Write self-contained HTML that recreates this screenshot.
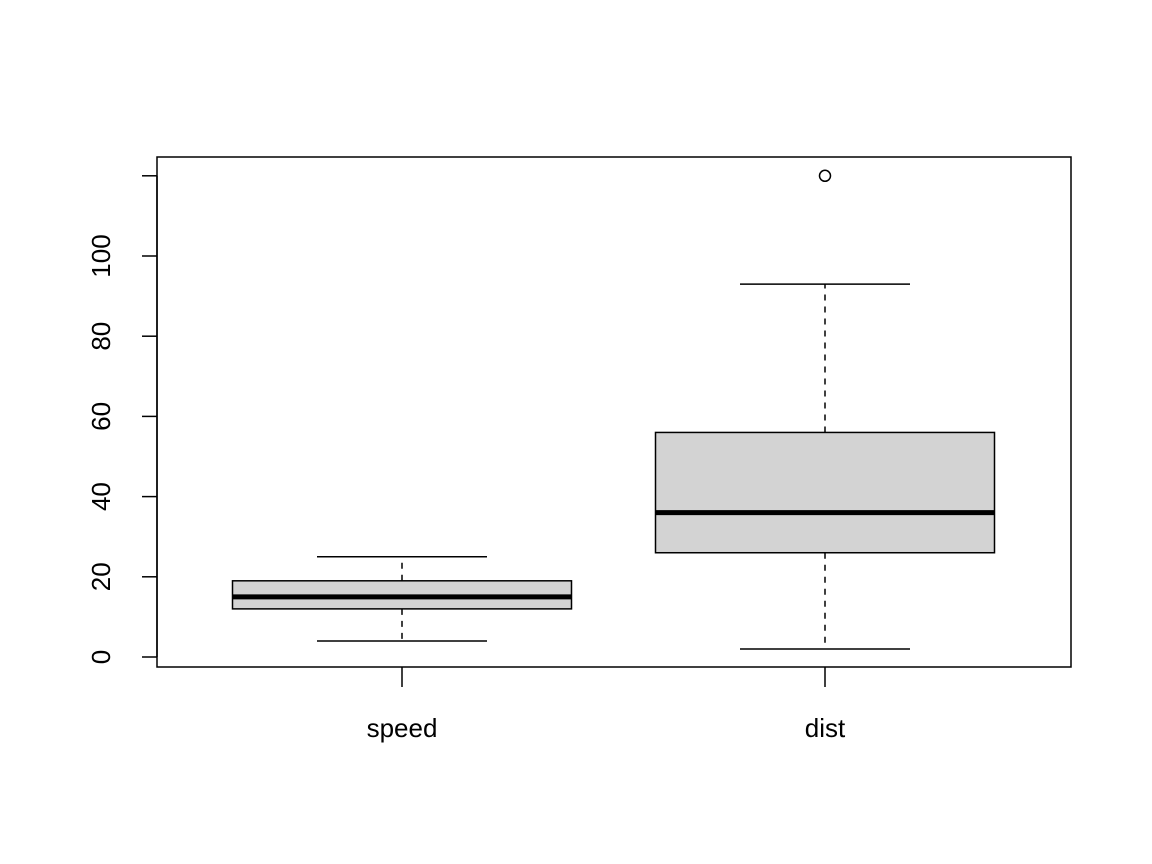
<!DOCTYPE html>
<html><head><meta charset="utf-8"><style>
html,body{margin:0;padding:0;background:#fff;}
svg{display:block;font-family:"Liberation Sans",Arial,sans-serif;}
</style></head><body>
<svg id="chart" width="1152" height="864" viewBox="0 0 1152 864" xmlns="http://www.w3.org/2000/svg">
<rect x="0" y="0" width="1152" height="864" fill="#fff"/>
<g id="marks"></g>
<rect x="157" y="157" width="914" height="510" fill="none" stroke="#000" stroke-width="1.5"/>
</svg>
<script>
const categories = ["speed", "dist"];
const mins = [4, 2];
const q1s = [12, 26];
const medians = [15, 36];
const q3s = [19, 56];
const maxs = [25, 93];
const outliers = [[], [120]];
const yTicks = [0, 20, 40, 60, 80, 100, 120];
const yTickLabels = ["0", "20", "40", "60", "80", "100", ""];

const NS = "http://www.w3.org/2000/svg";
const g = document.getElementById("marks");
function y(v){ return 657 - v * 4.01; }
function x(i){ return 402 + i * 423; }
function el(tag, attrs){
  const e = document.createElementNS(NS, tag);
  for (const k in attrs) e.setAttribute(k, attrs[k]);
  g.appendChild(e);
  return e;
}
let e = el("line", {x1:157, x2:157, y1:y(yTicks[0]), y2:y(yTicks[yTicks.length-1]), stroke:"#000", "stroke-width":1.5});


yTicks.forEach((t, k) => {
  let tk = el("line", {x1:142, x2:157, y1:y(t), y2:y(t), stroke:"#000", "stroke-width":1.5});
  
  
  if (yTickLabels[k]) {
    let lb = el("text", {x:0, y:0, "font-size":26, "text-anchor":"middle", transform:`translate(110,${y(t)}) rotate(-90)`});
    lb.textContent = yTickLabels[k];
    
    
  }
});
categories.forEach((c, i) => {
  const cx = x(i);
  let tk = el("line", {x1:cx, x2:cx, y1:667, y2:687, stroke:"#000", "stroke-width":1.5});
  
  
  let lb = el("text", {x:cx, y:737, "font-size":26, "text-anchor":"middle"});
  lb.textContent = c;
  
  
  let w1 = el("line", {x1:cx, x2:cx, y1:y(q3s[i]), y2:y(maxs[i]), stroke:"#000", "stroke-width":1.5, "stroke-dasharray":"6,6"});
  
  
  let w2 = el("line", {x1:cx, x2:cx, y1:y(q1s[i]), y2:y(mins[i]), stroke:"#000", "stroke-width":1.5, "stroke-dasharray":"6,6"});
  
  
  let c1 = el("line", {x1:cx-85, x2:cx+85, y1:y(maxs[i]), y2:y(maxs[i]), stroke:"#000", "stroke-width":1.5});
  
  
  let c2 = el("line", {x1:cx-85, x2:cx+85, y1:y(mins[i]), y2:y(mins[i]), stroke:"#000", "stroke-width":1.5});
  
  
  let b = el("rect", {x:cx-169.5, y:y(q3s[i]), width:339, height:y(q1s[i])-y(q3s[i]), fill:"#d3d3d3", stroke:"#000", "stroke-width":1.5});
  
  
  let m = el("line", {x1:cx-169.5, x2:cx+169.5, y1:y(medians[i]), y2:y(medians[i]), stroke:"#000", "stroke-width":5});
  
  
  outliers[i].forEach(o => {
    let p = el("circle", {cx:cx, cy:y(o), r:5.5, fill:"none", stroke:"#000", "stroke-width":1.5});
    
    
  });
});
</script>
</body></html>
